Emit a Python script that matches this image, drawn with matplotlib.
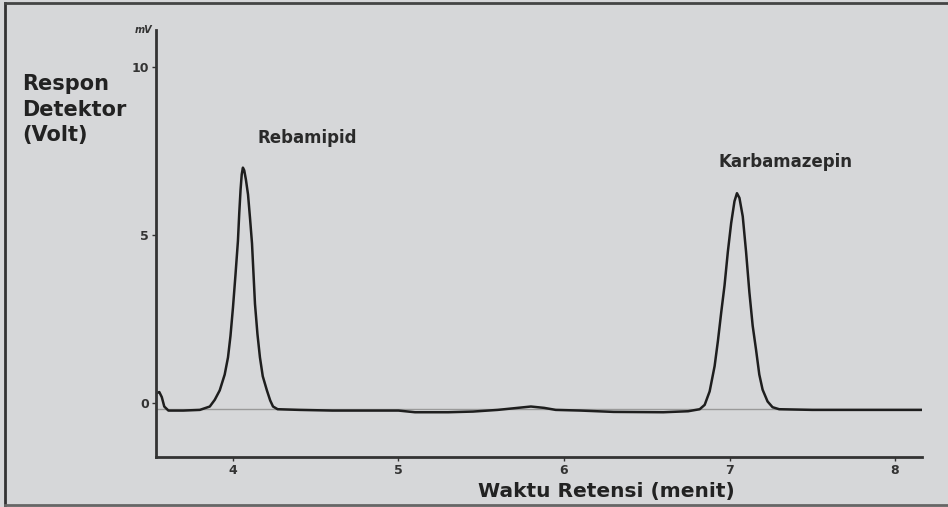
"""
Kromatogram Rebamipid dan Karbamazepin
"""

import matplotlib.pyplot as plt

# waktu retensi (menit) dan respon detektor, dibaca dari kromatogram
waktu = [3.54, 3.555, 3.57, 3.585, 3.61, 3.70, 3.80, 3.86, 3.89, 3.92, 3.95, 3.97,
         3.985, 4.00, 4.015, 4.03, 4.038, 4.046, 4.053, 4.06, 4.068, 4.078, 4.091,
         4.103, 4.115, 4.124, 4.133, 4.148, 4.163, 4.18, 4.205, 4.225, 4.242, 4.27,
         4.40, 4.60, 4.80, 5.00, 5.10, 5.30, 5.45, 5.60, 5.72, 5.80, 5.88, 5.95,
         6.10, 6.30, 6.60, 6.75, 6.82, 6.85, 6.88, 6.91, 6.93, 6.95, 6.97, 6.99,
         7.01, 7.03, 7.045, 7.06, 7.08, 7.10, 7.12, 7.14, 7.16, 7.18, 7.20, 7.23,
         7.26, 7.30, 7.50, 7.80, 8.16]
respon = [0.30, 0.33, 0.18, -0.10, -0.22, -0.22, -0.20, -0.10, 0.10, 0.38, 0.85, 1.36,
          2.00, 2.84, 3.80, 4.82, 5.65, 6.35, 6.80, 7.00, 6.92, 6.65, 6.20,
          5.50, 4.75, 3.85, 2.95, 2.05, 1.36, 0.80, 0.38, 0.08, -0.10, -0.18,
          -0.20, -0.22, -0.22, -0.22, -0.27, -0.27, -0.25, -0.20, -0.14, -0.10, -0.14, -0.20,
          -0.22, -0.26, -0.27, -0.24, -0.18, -0.05, 0.35, 1.10, 1.85, 2.70, 3.50, 4.50,
          5.35, 6.00, 6.24, 6.10, 5.55, 4.50, 3.30, 2.30, 1.60, 0.85, 0.40, 0.05,
          -0.12, -0.18, -0.20, -0.20, -0.20]

garis_dasar = -0.18
puncak_nama = ['Rebamipid', 'Karbamazepin']
puncak_pos = [(4.45, 7.87), (7.34, 7.16)]
x_ticks = [4, 5, 6, 7, 8]
y_ticks = [0, 5, 10]

bg = '#d6d7d9'
fig = plt.figure(figsize=(9.48, 5.07), dpi=100, facecolor=bg)
ax = fig.add_axes([156 / 948, 50 / 507, 766 / 948, 427 / 507])
ax.set_facecolor(bg)

# garis dasar integrasi
ax.plot([waktu[0], waktu[-1]], [garis_dasar, garis_dasar], color='#9a9a9a', lw=1.0)
ax.plot(waktu, respon, color='#1e1e1e', lw=1.8)

for nama, (tx, ty) in zip(puncak_nama, puncak_pos):
    ax.text(tx, ty, nama, ha='center', va='center', fontsize=12,
            fontweight='bold', color='#2a2a2a')

ax.set_xlim(3.535, 8.163)
ax.set_ylim(-1.6, 11.09)
ax.set_xticks(x_ticks)
ax.set_yticks(y_ticks)
ax.tick_params(axis='both', length=3, width=1, color='#333333', labelsize=9,
               labelcolor='#333333', pad=2)
for lab in ax.get_xticklabels() + ax.get_yticklabels():
    lab.set_fontweight('bold')

for s in ['top', 'right']:
    ax.spines[s].set_visible(False)
for s in ['left', 'bottom']:
    ax.spines[s].set_linewidth(2)
    ax.spines[s].set_color('#333333')

ax.text(-0.005, 1.0, 'mV', transform=ax.transAxes, ha='right', va='center',
        fontsize=7, fontweight='bold', style='italic', color='#333333')

fig.text(22 / 948, 1 - 74 / 507, 'Respon\nDetektor\n(Volt)', ha='left', va='top',
         fontsize=15, fontweight='bold', color='#222222', linespacing=1.35)
fig.text(606 / 948, 1 - 492 / 507, 'Waktu Retensi (menit)', ha='center', va='center',
         fontsize=14.5, fontweight='bold', color='#222222')

# bingkai gambar
fig.add_artist(plt.Line2D([5 / 948, 5 / 948], [2 / 507, 1 - 3 / 507],
                          transform=fig.transFigure, color='#333333', lw=2))
fig.add_artist(plt.Line2D([5 / 948, 1], [1 - 3 / 507, 1 - 3 / 507],
                          transform=fig.transFigure, color='#444444', lw=2))
fig.add_artist(plt.Line2D([5 / 948, 1], [2 / 507, 2 / 507],
                          transform=fig.transFigure, color='#666666', lw=2))

fig.savefig('out.png', dpi=100, facecolor=bg)
